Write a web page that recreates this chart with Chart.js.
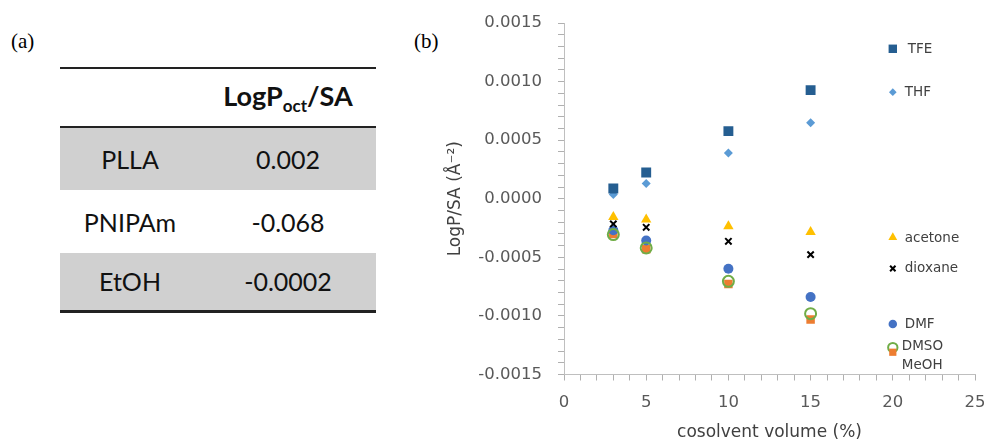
<!DOCTYPE html>
<html>
<head>
<meta charset="utf-8">
<script src="https://cdn.jsdelivr.net/npm/chart.js@4.4.0/dist/chart.umd.min.js"></script>
<style>
    body { margin: 0; background: #fff; width: 987px; height: 446px; position: relative; overflow: hidden; }
    .panel { position: absolute; font-family: "Liberation Serif", serif; font-size: 21px; color: #000; }
    #tbl { position: absolute; left: 60px; top: 67px; width: 316px; border-collapse: collapse;
        font-family: Lato, "Open Sans", sans-serif; font-size: 25px; color: #111; }
    #tbl td, #tbl th { text-align: center; padding: 0; }
    #tbl thead tr { height: 59px; border-top: 2px solid #222; border-bottom: 2.5px solid #222; }
    #tbl th { font-weight: bold; font-size: 27px; }
    #tbl sub { font-size: 17px; }
    #tbl tbody tr { height: 63px; }
    #tbl tbody tr.shade { background: #d0d0d0; }
    #tbl tbody tr:last-child { border-bottom: 3px solid #222; height: 58px; }
    #wrap { position: absolute; left: 400px; top: 0; width: 587px; height: 446px; }
</style>
</head>
<body>
<div class="panel" style="left:11px; top:29px;">(a)</div>
<div class="panel" style="left:414px; top:29px;">(b)</div>
<table id="tbl">
    <thead><tr><th style="width:140px"></th><th id="hdr"></th></tr></thead>
    <tbody id="tbody"></tbody>
</table>
<div id="wrap"><canvas id="plot" width="587" height="446"></canvas></div>
<script>
// table (a)
const polymers = ['PLLA', 'PNIPAm', 'EtOH'];
const polymerValues = ['0.002', '-0.068', '-0.0002'];

// chart (b)
const volumes = [3, 5, 10, 15];
const tfe = [0.000087, 0.000224, 0.000577, 0.000927];
const thf = [0.000036, 0.00013, 0.00039, 0.000648];
const acetone = [-0.000155, -0.000178, -0.000235, -0.000284];
const dioxane = [-0.000215, -0.000244, -0.000363, -0.000477];
const dmf = [-0.000269, -0.000357, -0.000597, -0.000839];
const dmso = [-0.000306, -0.00042, -0.000705, -0.000981];
const meoh = [-0.0003, -0.000432, -0.000728, -0.00103];
const seriesNames = ['TFE', 'THF', 'acetone', 'dioxane', 'DMF', 'DMSO', 'MeOH'];
const xTicks = [0, 5, 10, 15, 20, 25];
const yTicks = [-0.0015, -0.0010, -0.0005, 0.0000, 0.0005, 0.0010, 0.0015];

$ = (id) => document.getElementById(id);
$('hdr').innerHTML = 'LogP<sub>oct</sub>/SA';
polymers.forEach((p, i) => {
    let row = `<tr class="${i % 2 === 0 ? 'shade' : ''}"><td>${p}</td><td>${polymerValues[i]}</td></tr>`;
    $('tbody').insertAdjacentHTML('beforeend', row);
});

function pts(vals) {
    return vals.map((v, i) => ({ x: volumes[i], y: v }));
}

const styles = [
    { pointStyle: 'rect', radius: 7, bg: '#255e91', border: '#255e91', bw: 0 },
    { pointStyle: 'rectRot', radius: 4.5, bg: '#5b9bd5', border: '#5b9bd5', bw: 0 },
    { pointStyle: 'triangle', radius: 6, bg: '#ffc000', border: '#ffc000', bw: 0 },
    { pointStyle: 'crossRot', radius: 4.5, bg: '#000', border: '#000', bw: 2 },
    { pointStyle: 'circle', radius: 5, bg: '#4472c4', border: '#4472c4', bw: 0 },
    { pointStyle: 'circle', radius: 5.5, bg: 'rgba(0,0,0,0)', border: '#70ad47', bw: 2 },
    { pointStyle: 'rect', radius: 6, bg: '#ed7d31', border: '#ed7d31', bw: 0 }
];
const allSeries = [tfe, thf, acetone, dioxane, dmf, dmso, meoh];

// legend items sit by the plot's right edge, at these y values (data units)
const legendSpots = [0.00128, 0.00091, -0.00033, -0.000595, -0.00107, -0.00127, -0.00131];
const legendTextDy = [1, 0, 1, 0, 0, -1, 13];

const chartFont = '"DejaVu Sans", sans-serif';

const sideLegend = {
    id: 'sideLegend',
    afterDatasetsDraw(chart) {
        const ctx = chart.ctx;
        const xs = chart.scales.x, ys = chart.scales.y;
        const mx = xs.getPixelForValue(20);
        ctx.save();
        ctx.font = '13.5px ' + chartFont;
        ctx.textBaseline = 'middle';
        ctx.textAlign = 'left';
        seriesNames.forEach((name, i) => {
            const s = styles[i];
            const my = ys.getPixelForValue(legendSpots[i]);
            ctx.fillStyle = s.bg;
            ctx.strokeStyle = s.border;
            ctx.lineWidth = s.bw;
            Chart.helpers.drawPoint(ctx, { pointStyle: s.pointStyle, radius: s.radius * 0.85, borderWidth: s.bw }, mx, my);
            ctx.fillStyle = '#404040';
            const dx = i === 0 ? 15 : 12;
            ctx.fillText(name, mx + (i >= 5 ? 9 : dx), my + legendTextDy[i]);
        });
        ctx.restore();
    }
};

const datasets = allSeries.map((vals, i) => ({
    label: seriesNames[i],
    data: pts(vals),
    pointStyle: styles[i].pointStyle,
    pointRadius: styles[i].radius,
    pointHoverRadius: styles[i].radius,
    backgroundColor: styles[i].bg,
    borderColor: styles[i].border,
    pointBorderWidth: styles[i].bw,
    showLine: false,
    order: i === 5 ? 0 : 1
}));

const tickFont = { family: chartFont, size: 16.5 };
const titleFont = { family: chartFont, size: 17 };

const config = {
    type: 'scatter',
    data: { datasets },
    options: {
        responsive: false,
        animation: false,
        devicePixelRatio: 1,
        layout: { padding: { top: 23, right: 12, bottom: 0, left: 0 } },
        plugins: { legend: { display: false }, tooltip: { enabled: false } },
        scales: {
            x: {
                type: 'linear',
                min: xTicks[0],
                max: xTicks[xTicks.length - 1],
                afterFit: (scale) => {
                    scale.height = 71.5;
                    scale.paddingLeft = 0;
                    scale.paddingRight = 0;
                },
                border: { color: '#bfbfbf', width: 1 },
                grid: { drawOnChartArea: false, color: '#b0b0b0', tickLength: 6, lineWidth: 1 },
                ticks: {
                    stepSize: 1,
                    autoSkip: false,
                    maxRotation: 0,
                    padding: 12,
                    color: '#595959',
                    font: tickFont,
                    callback: (v) => xTicks.includes(v) ? String(v) : ''
                },
                title: {
                    display: true,
                    text: 'cosolvent volume (%)',
                    color: '#404040',
                    font: titleFont,
                    padding: { top: 0, bottom: 3 }
                }
            },
            y: {
                min: yTicks[0],
                max: yTicks[yTicks.length - 1],
                afterFit: (scale) => {
                    scale.width = 164;
                    scale.paddingTop = 0;
                    scale.paddingBottom = 0;
                },
                border: { color: '#bfbfbf', width: 1 },
                grid: { drawOnChartArea: false, color: '#b0b0b0', tickLength: 6, lineWidth: 1 },
                ticks: {
                    stepSize: 0.0001,
                    autoSkip: false,
                    padding: 16,
                    color: '#595959',
                    font: tickFont,
                    callback: (v) => {
                        const hit = yTicks.find(t => Math.abs(t - v) < 1e-9);
                        return hit === undefined ? '' : hit.toFixed(4);
                    }
                },
                title: {
                    display: true,
                    text: 'LogP/SA (Å⁻²)',
                    color: '#404040',
                    font: titleFont,
                    padding: { top: 45, bottom: 0 }
                }
            }
        }
    },
    plugins: [sideLegend]
};

new Chart($('plot'), config);
</script>
</body>
</html>
